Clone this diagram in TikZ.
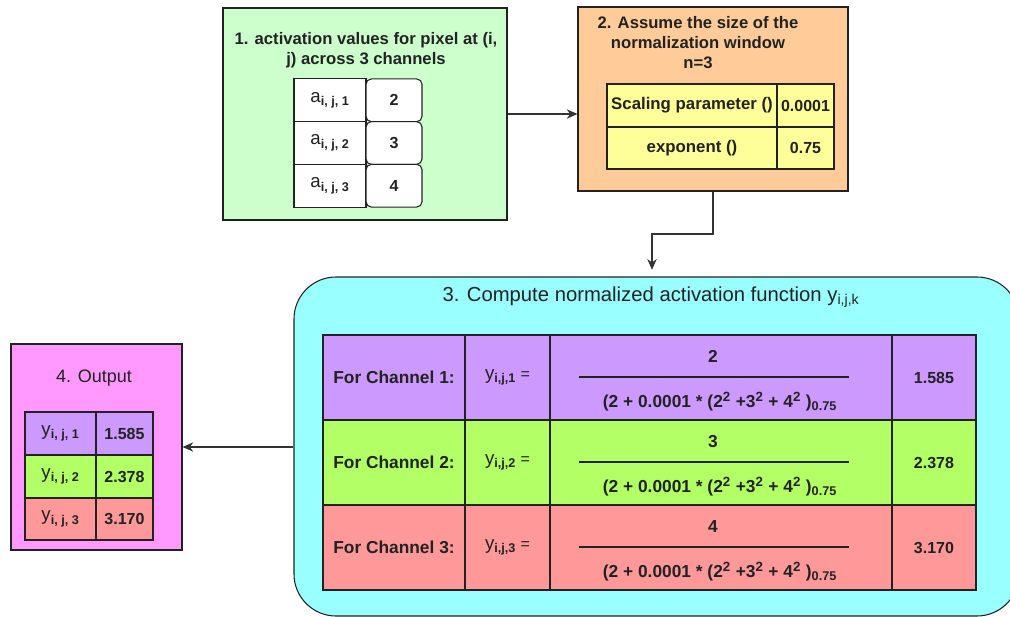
\documentclass[tikz,border=0pt]{standalone}
\usepackage{fontspec}
\setmainfont{Liberation Sans}
\usetikzlibrary{arrows.meta}

\definecolor{ink}{HTML}{222222}
\definecolor{wire}{HTML}{333333}
\definecolor{mint}{HTML}{CCFFCC}
\definecolor{peach}{HTML}{FFCC99}
\definecolor{aqua}{HTML}{99FFFF}
\definecolor{pinkish}{HTML}{FF99FF}
\definecolor{lemon}{HTML}{FFFF99}
\definecolor{lilac}{HTML}{CC99FF}
\definecolor{lime}{HTML}{B3FF66}
\definecolor{salmon}{HTML}{FF9999}

\tikzset{
  sz/.style 2 args={minimum width=#1*0.75pt, minimum height=#2*0.75pt},
  panel/.style={draw=ink, line width=0.8pt, inner sep=0pt},
  cell/.style={draw=ink, line width=0.8pt, inner sep=0pt, font=\fontsize{12}{14}\selectfont\bfseries, text=ink},
  bigcell/.style={cell, font=\fontsize{13}{15}\selectfont\bfseries},
  roundcell/.style={cell, rounded corners=4pt, fill=white},
  head/.style={font=\fontsize{12.5}{15}\selectfont\bfseries, text=ink, align=center},
  txt/.style={font=\fontsize{13}{15}\selectfont\bfseries, text=ink, inner sep=0pt},
  arr/.style={draw=wire, line width=1pt, -{Stealth[length=8pt, width=7pt, inset=2.5pt]}},
}

% variable name with a bold index, as printed in the tables
\newcommand{\vname}[2]{{\fontsize{14}{16}\selectfont\mdseries #1}\textsubscript{\fontsize{9.5}{11}\selectfont\bfseries #2}}
% squared term in the denominators
\newcommand{\sq}[1]{#1\textsuperscript{\fontsize{10}{11}\selectfont 2}}

\begin{document}
\begin{tikzpicture}[x=0.75pt, y=-0.75pt]
\useasboundingbox (0,0) rectangle (1010,617);

% ---- panel 1: activation values ----
\node[panel, fill=mint, sz={284}{212}] (p1) at (365,114) {};
\node[head] (h1) at (366,50) {1. activation values for pixel at (i,\\ j) across 3 channels};
\node[cell, fill=white, sz={72}{42.7}] (a1) at (330,100.3) {\vname{a}{i, j, 1}};
\node[cell, fill=white, sz={72}{42.7}] (a2) at (330,143) {\vname{a}{i, j, 2}};
\node[cell, fill=white, sz={72}{42.7}] (a3) at (330,185.7) {\vname{a}{i, j, 3}};
\node[roundcell, sz={56}{42.7}] (v1) at (394,100.3) {2};
\node[roundcell, sz={56}{42.7}] (v2) at (394,143) {3};
\node[roundcell, sz={56}{42.7}] (v3) at (394,185.7) {4};

% ---- panel 2: normalization window ----
\node[panel, fill=peach, sz={270}{184}] (p2) at (713,99) {};
\node[head] (h2) at (698,43) {2. Assume the size of the\\ normalization window\\ n=3};
\node[cell, fill=lemon, font=\fontsize{12.6}{14}\selectfont\bfseries, sz={170}{43}] (s1) at (692,105.5) {Scaling parameter ()};
\node[cell, fill=lemon, sz={57}{43}] (s2) at (805.5,105.5) {0.0001};
\node[cell, fill=lemon, font=\fontsize{12.6}{14}\selectfont\bfseries, sz={170}{42}] (e1) at (692,148) {exponent ()};
\node[cell, fill=lemon, sz={57}{42}] (e2) at (805.5,148) {0.75};

% ---- panel 3: normalized activation ----
\node[panel, fill=aqua, rounded corners=31.5pt, sz={725}{339}] (p3) at (656.5,446.5) {};
\node[font=\fontsize{15.2}{17}\selectfont, text=ink] (h3) at (651,297) {3. Compute normalized activation function y\textsubscript{i,j,k}};

\foreach \r/\yc/\col/\num/\res in {1/377.5/lilac/2/1.585, 2/462.5/lime/3/2.378, 3/547.5/salmon/4/3.170} {
  \node[bigcell, fill=\col, sz={142}{85}] (ch\r) at (394,\yc) {For Channel \r:};
  \node[cell, fill=\col, sz={85}{85}] (yy\r) at (507.5,\yc) {\vname{y}{i,j,\r} {\mdseries =}};
  \node[cell, fill=\col, sz={342}{85}] (fc\r) at (721,\yc) {};
  \node[cell, fill=\col, sz={84}{85}] (rs\r) at (934,\yc) {\res};
  \node[txt] (nu\r) at (713,\yc-21) {\num};
  \node[txt] (de\r) at (720,\yc+24) {(2 + 0.0001 * (\sq{2} +\sq{3} + \sq{4} )\textsubscript{\fontsize{9.5}{11}\selectfont 0.75}};
  \coordinate (barL\r) at (579,\yc-0.5);
  \coordinate (barR\r) at (849,\yc-0.5);
  \draw[draw=ink, line width=0.8pt] (barL\r) -- (barR\r);
}

% ---- panel 4: output ----
\node[panel, fill=pinkish, sz={171}{206}] (p4) at (96.5,447) {};
\node[head, font=\fontsize{13.5}{15}\selectfont] (h4) at (94,378) {4. Output};
\node[cell, fill=lilac, sz={71}{43}] (o1) at (60.5,433.5) {\vname{y}{i, j, 1}};
\node[cell, fill=lilac, sz={57}{43}] (r1) at (124.5,433.5) {1.585};
\node[cell, fill=lime, sz={71}{43}] (o2) at (60.5,476.5) {\vname{y}{i, j, 2}};
\node[cell, fill=lime, sz={57}{43}] (r2) at (124.5,476.5) {2.378};
\node[cell, fill=salmon, sz={71}{42}] (o3) at (60.5,519) {\vname{y}{i, j, 3}};
\node[cell, fill=salmon, sz={57}{42}] (r3) at (124.5,519) {3.170};

% ---- connectors ----
\draw[arr] (p1.east) -- (p1.east -| p2.west);
\coordinate (bend) at (652,234);
\draw[arr, shorten >=5pt] (p2.south) |- (bend) -- (bend |- p3.north);
\draw[arr] (p3.west |- p4.east) -- (p4.east);
\end{tikzpicture}
\end{document}
